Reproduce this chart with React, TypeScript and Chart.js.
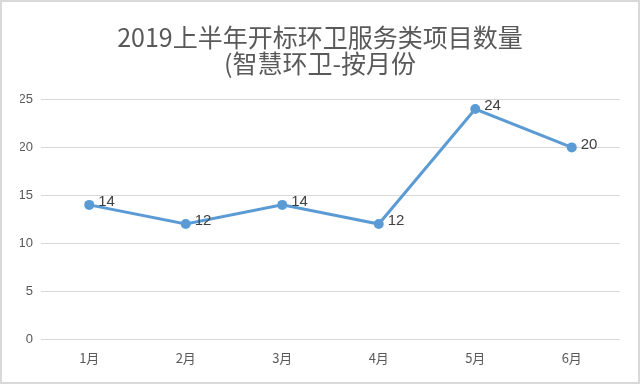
import React, { useEffect, useRef } from "react";
import { Chart, registerables } from "chart.js";

Chart.register(...registerables);

const titleLines = ["2019上半年开标环卫服务类项目数量", "(智慧环卫-按月份"];
const months = ["1月", "2月", "3月", "4月", "5月", "6月"];
const counts = [14, 12, 14, 12, 24, 20];
const yMin = 0;
const yMax = 25;
const yStep = 5;

const labelPlugin = {
  id: "pointLabels",
  afterDatasetsDraw(chart: any) {
    const ctx = chart.ctx;
    const meta = chart.getDatasetMeta(0);
    ctx.save();
    ctx.font = '15px "Liberation Sans", "Noto Sans CJK SC", sans-serif';
    ctx.fillStyle = "#404040";
    ctx.textAlign = "left";
    ctx.textBaseline = "middle";
    meta.data.forEach((pt: any, i: number) => {
      ctx.fillText(String(counts[i]), pt.x + 9, pt.y - 3);
    });
    ctx.restore();
  },
};

export default function App() {
  const ref = useRef<HTMLCanvasElement>(null);
  useEffect(() => {
    document.body.style.margin = "0";
    const chart = new Chart(ref.current!, {
      type: "line",
      data: {
        labels: months,
        datasets: [
          {
            data: counts,
            borderColor: "#5B9BD5",
            backgroundColor: "#5B9BD5",
            borderWidth: 3,
            pointRadius: 5,
            pointHoverRadius: 5,
            pointBorderWidth: 0,
            tension: 0,
          },
        ],
      },
      options: {
        animation: false,
        responsive: false,
        layout: { padding: { left: 18, right: 18, top: 0, bottom: 0 } },
        plugins: {
          legend: { display: false },
          tooltip: { enabled: false },
          title: {
            display: true,
            text: titleLines,
            color: "#595959",
            font: { size: 25, family: '"Noto Sans CJK SC", sans-serif', weight: "normal", lineHeight: 1.05 },
            padding: { top: 22, bottom: 23 },
          },
        },
        scales: {
          x: {
            offset: true,
            grid: { display: false, drawTicks: false },
            border: { display: false },
            ticks: {
              color: "#595959",
              padding: 11,
              font: { size: 13, family: '"Noto Sans CJK SC", sans-serif' },
            },
            afterFit: (s: any) => {
              s.height = 43;
            },
          },
          y: {
            min: yMin,
            max: yMax,
            grid: { color: "#d9d9d9", lineWidth: 1, drawTicks: false },
            border: { display: false },
            ticks: {
              stepSize: yStep,
              color: "#595959",
              padding: 8,
              font: { size: 13, family: '"Liberation Sans", sans-serif' },
            },
            afterFit: (s: any) => {
              s.width = 21;
            },
          },
        },
      },
      plugins: [labelPlugin],
    });
    return () => chart.destroy();
  }, []);
  return (
    <div
      style={{
        position: "fixed",
        left: 0,
        top: 0,
        width: 640,
        height: 384,
        boxSizing: "border-box",
        border: "2px solid #d9d9d9",
        background: "#fff",
      }}
    >
      <canvas ref={ref} width={636} height={380} style={{ display: "block" }} />
    </div>
  );
}
